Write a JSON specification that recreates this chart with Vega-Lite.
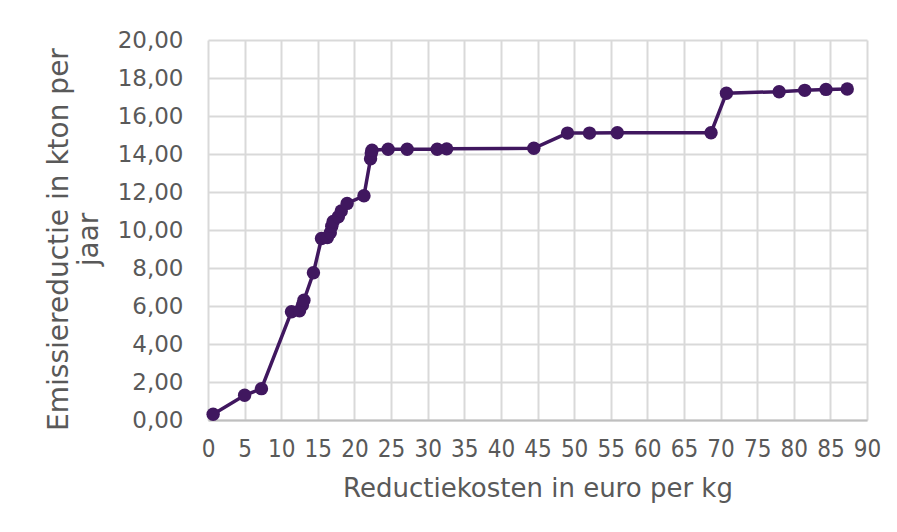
{
  "$schema": "https://vega.github.io/schema/vega-lite/v6.json",
  "width": 659,
  "height": 380,
  "autosize": {"type": "none"},
  "padding": {"left": 208, "top": 40, "right": 30, "bottom": 112},
  "background": "white",
  "config": {
    "locale": {"number": {"decimal": ",", "thousands": ".", "grouping": [3], "currency": ["€", ""]}},
    "view": {"stroke": null},
    "axis": {
      "labelFont": "DejaVu Sans",
      "titleFont": "DejaVu Sans",
      "labelColor": "#595959",
      "titleColor": "#595959",
      "titleFontWeight": "normal",
      "gridColor": "#d9d9d9",
      "gridWidth": 2,
      "domainColor": "#bfbfbf",
      "domainWidth": 2,
      "ticks": false
    }
  },
  "data": {
    "values": [
      {"kosten": 0.7, "reductie": 0.3},
      {"kosten": 5.0, "reductie": 1.3},
      {"kosten": 7.3, "reductie": 1.65},
      {"kosten": 11.4, "reductie": 5.7},
      {"kosten": 12.5, "reductie": 5.75},
      {"kosten": 12.9, "reductie": 6.05},
      {"kosten": 13.1, "reductie": 6.3},
      {"kosten": 14.4, "reductie": 7.75},
      {"kosten": 15.5, "reductie": 9.55},
      {"kosten": 16.3, "reductie": 9.6},
      {"kosten": 16.7, "reductie": 9.85},
      {"kosten": 16.9, "reductie": 10.2},
      {"kosten": 17.1, "reductie": 10.45},
      {"kosten": 17.8, "reductie": 10.7},
      {"kosten": 18.2, "reductie": 11.0},
      {"kosten": 19.0, "reductie": 11.4},
      {"kosten": 21.3, "reductie": 11.8},
      {"kosten": 22.2, "reductie": 13.75},
      {"kosten": 22.3, "reductie": 14.05},
      {"kosten": 22.4, "reductie": 14.2},
      {"kosten": 24.6, "reductie": 14.25},
      {"kosten": 27.2, "reductie": 14.25},
      {"kosten": 31.3, "reductie": 14.25},
      {"kosten": 32.6, "reductie": 14.27},
      {"kosten": 44.5, "reductie": 14.3},
      {"kosten": 49.1, "reductie": 15.1},
      {"kosten": 52.1, "reductie": 15.1},
      {"kosten": 55.9, "reductie": 15.12},
      {"kosten": 68.7, "reductie": 15.12},
      {"kosten": 70.8, "reductie": 17.2},
      {"kosten": 78.0, "reductie": 17.28},
      {"kosten": 81.5, "reductie": 17.35},
      {"kosten": 84.4, "reductie": 17.4},
      {"kosten": 87.3, "reductie": 17.42}
    ]
  },
  "mark": {"type": "line", "color": "#40175f", "strokeWidth": 3.5, "point": {"filled": true, "size": 180, "color": "#40175f", "opacity": 1}},
  "encoding": {
    "x": {
      "field": "kosten", "type": "quantitative",
      "scale": {"domain": [0, 90], "nice": false},
      "axis": {"values": [0,5,10,15,20,25,30,35,40,45,50,55,60,65,70,75,80,85,90], "title": "Reductiekosten in euro per kg", "labelFont": "DejaVu Sans Condensed", "labelFontSize": 24, "titleFontSize": 26, "labelPadding": 17, "titlePadding": 14, "grid": true, "labelOverlap": false, "labelFlush": false}
    },
    "y": {
      "field": "reductie", "type": "quantitative",
      "scale": {"domain": [0, 20], "nice": false},
      "axis": {"values": [0,2,4,6,8,10,12,14,16,18,20], "format": ".2f", "title": ["Emissiereductie in kton per", "jaar"], "labelFontSize": 23, "titleFontSize": 28, "titleLineHeight": 30, "labelPadding": 25, "titlePadding": 14, "titleY": 199, "domain": false, "labelOverlap": false}
    }
  }
}
